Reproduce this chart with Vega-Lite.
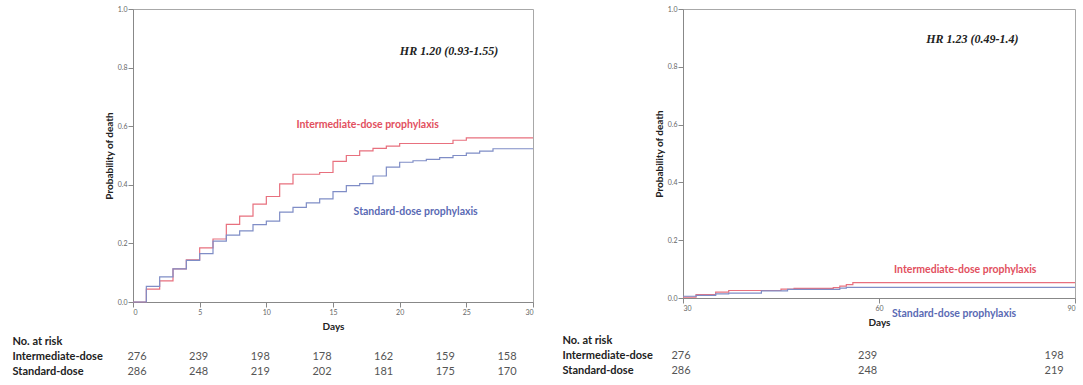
{
  "$schema": "https://vega.github.io/schema/vega-lite/v6.json",
  "padding": {"left": 12, "top": 4, "right": 0, "bottom": 0},
  "background": "white",
  "config": {
    "font": "Lato",
    "view": {"stroke": "#a8a8a8", "strokeWidth": 1},
    "axis": {
      "grid": false,
      "domainColor": "#888888",
      "tickColor": "#888888",
      "tickSize": 5,
      "labelColor": "#666666",
      "labelFontSize": 7,
      "labelPadding": 1,
      "labelFont": "Lato",
      "titleFont": "Lato",
      "titleFontSize": 10,
      "titleFontWeight": "bold",
      "titleColor": "#222222"
    }
  },
  "datasets": {
    "leftCurves": [
      {"day": 0, "prob": 0, "group": "Intermediate-dose"},
      {"day": 1, "prob": 0.044, "group": "Intermediate-dose"},
      {"day": 2, "prob": 0.072, "group": "Intermediate-dose"},
      {"day": 3, "prob": 0.113, "group": "Intermediate-dose"},
      {"day": 4, "prob": 0.144, "group": "Intermediate-dose"},
      {"day": 5, "prob": 0.185, "group": "Intermediate-dose"},
      {"day": 6, "prob": 0.215, "group": "Intermediate-dose"},
      {"day": 7, "prob": 0.265, "group": "Intermediate-dose"},
      {"day": 8, "prob": 0.293, "group": "Intermediate-dose"},
      {"day": 9, "prob": 0.334, "group": "Intermediate-dose"},
      {"day": 10, "prob": 0.36, "group": "Intermediate-dose"},
      {"day": 11, "prob": 0.403, "group": "Intermediate-dose"},
      {"day": 12, "prob": 0.436, "group": "Intermediate-dose"},
      {"day": 14, "prob": 0.442, "group": "Intermediate-dose"},
      {"day": 15, "prob": 0.48, "group": "Intermediate-dose"},
      {"day": 16, "prob": 0.5, "group": "Intermediate-dose"},
      {"day": 17, "prob": 0.516, "group": "Intermediate-dose"},
      {"day": 18, "prob": 0.524, "group": "Intermediate-dose"},
      {"day": 19, "prob": 0.532, "group": "Intermediate-dose"},
      {"day": 20, "prob": 0.541, "group": "Intermediate-dose"},
      {"day": 24, "prob": 0.552, "group": "Intermediate-dose"},
      {"day": 25, "prob": 0.56, "group": "Intermediate-dose"},
      {"day": 30, "prob": 0.56, "group": "Intermediate-dose"},
      {"day": 0, "prob": 0, "group": "Standard-dose"},
      {"day": 1, "prob": 0.053, "group": "Standard-dose"},
      {"day": 2, "prob": 0.086, "group": "Standard-dose"},
      {"day": 3, "prob": 0.113, "group": "Standard-dose"},
      {"day": 4, "prob": 0.142, "group": "Standard-dose"},
      {"day": 5, "prob": 0.165, "group": "Standard-dose"},
      {"day": 6, "prob": 0.208, "group": "Standard-dose"},
      {"day": 7, "prob": 0.228, "group": "Standard-dose"},
      {"day": 8, "prob": 0.243, "group": "Standard-dose"},
      {"day": 9, "prob": 0.264, "group": "Standard-dose"},
      {"day": 10, "prob": 0.276, "group": "Standard-dose"},
      {"day": 11, "prob": 0.307, "group": "Standard-dose"},
      {"day": 12, "prob": 0.323, "group": "Standard-dose"},
      {"day": 13, "prob": 0.338, "group": "Standard-dose"},
      {"day": 14, "prob": 0.352, "group": "Standard-dose"},
      {"day": 15, "prob": 0.377, "group": "Standard-dose"},
      {"day": 16, "prob": 0.397, "group": "Standard-dose"},
      {"day": 17, "prob": 0.404, "group": "Standard-dose"},
      {"day": 18, "prob": 0.43, "group": "Standard-dose"},
      {"day": 19, "prob": 0.46, "group": "Standard-dose"},
      {"day": 20, "prob": 0.477, "group": "Standard-dose"},
      {"day": 21, "prob": 0.482, "group": "Standard-dose"},
      {"day": 22, "prob": 0.487, "group": "Standard-dose"},
      {"day": 23, "prob": 0.493, "group": "Standard-dose"},
      {"day": 24, "prob": 0.5, "group": "Standard-dose"},
      {"day": 25, "prob": 0.508, "group": "Standard-dose"},
      {"day": 26, "prob": 0.515, "group": "Standard-dose"},
      {"day": 27, "prob": 0.523, "group": "Standard-dose"},
      {"day": 30, "prob": 0.523, "group": "Standard-dose"}
    ],
    "rightCurves": [
      {"day": 30, "prob": 0.003, "group": "Intermediate-dose"},
      {"day": 32, "prob": 0.012, "group": "Intermediate-dose"},
      {"day": 35, "prob": 0.02, "group": "Intermediate-dose"},
      {"day": 37, "prob": 0.026, "group": "Intermediate-dose"},
      {"day": 45, "prob": 0.031, "group": "Intermediate-dose"},
      {"day": 47, "prob": 0.033, "group": "Intermediate-dose"},
      {"day": 53, "prob": 0.036, "group": "Intermediate-dose"},
      {"day": 54, "prob": 0.041, "group": "Intermediate-dose"},
      {"day": 55, "prob": 0.046, "group": "Intermediate-dose"},
      {"day": 56, "prob": 0.053, "group": "Intermediate-dose"},
      {"day": 90, "prob": 0.053, "group": "Intermediate-dose"},
      {"day": 30, "prob": 0.006, "group": "Standard-dose"},
      {"day": 32, "prob": 0.009, "group": "Standard-dose"},
      {"day": 35, "prob": 0.014, "group": "Standard-dose"},
      {"day": 37, "prob": 0.017, "group": "Standard-dose"},
      {"day": 42, "prob": 0.025, "group": "Standard-dose"},
      {"day": 46, "prob": 0.03, "group": "Standard-dose"},
      {"day": 54, "prob": 0.034, "group": "Standard-dose"},
      {"day": 55, "prob": 0.037, "group": "Standard-dose"},
      {"day": 90, "prob": 0.037, "group": "Standard-dose"}
    ],
    "leftLabels": [
      {"day": 17.6, "prob": 0.605, "group": "Intermediate-dose", "label": "Intermediate-dose prophylaxis"},
      {"day": 21.2, "prob": 0.308, "group": "Standard-dose", "label": "Standard-dose prophylaxis"}
    ],
    "rightLabels": [
      {"day": 73.2, "prob": 0.096, "group": "Intermediate-dose", "label": "Intermediate-dose prophylaxis"},
      {"day": 71.5, "prob": -0.055, "group": "Standard-dose", "label": "Standard-dose prophylaxis"}
    ],
    "leftHR": [{"day": 23.7, "prob": 0.858, "label": "HR 1.20 (0.93-1.55)"}],
    "rightHR": [{"day": 74.3, "prob": 0.897, "label": "HR 1.23 (0.49-1.4)"}],
    "leftTable": [
      {"day": 0, "row": "Intermediate-dose", "n": 276},
      {"day": 5, "row": "Intermediate-dose", "n": 239},
      {"day": 10, "row": "Intermediate-dose", "n": 198},
      {"day": 15, "row": "Intermediate-dose", "n": 178},
      {"day": 20, "row": "Intermediate-dose", "n": 162},
      {"day": 25, "row": "Intermediate-dose", "n": 159},
      {"day": 30, "row": "Intermediate-dose", "n": 158},
      {"day": 0, "row": "Standard-dose", "n": 286},
      {"day": 5, "row": "Standard-dose", "n": 248},
      {"day": 10, "row": "Standard-dose", "n": 219},
      {"day": 15, "row": "Standard-dose", "n": 202},
      {"day": 20, "row": "Standard-dose", "n": 181},
      {"day": 25, "row": "Standard-dose", "n": 175},
      {"day": 30, "row": "Standard-dose", "n": 170}
    ],
    "rightTable": [
      {"day": 30, "row": "Intermediate-dose", "n": 276},
      {"day": 60, "row": "Intermediate-dose", "n": 239},
      {"day": 90, "row": "Intermediate-dose", "n": 198},
      {"day": 30, "row": "Standard-dose", "n": 286},
      {"day": 60, "row": "Standard-dose", "n": 248},
      {"day": 90, "row": "Standard-dose", "n": 219}
    ]
  },
  "spacing": 26,
  "hconcat": [
    {
      "spacing": 2,
      "vconcat": [
        {
          "width": 400,
          "height": 293,
          "resolve": {"scale": {"color": "independent"}},
          "layer": [
            {
              "data": {"name": "leftCurves"},
              "mark": {"type": "line", "interpolate": "step-after", "strokeWidth": 1.2},
              "encoding": {
                "x": {"field": "day", "type": "quantitative", "scale": {"domain": [0, 30], "nice": false, "zero": false},
                      "axis": {"values": [0, 5, 10, 15, 20, 25, 30], "title": "Days", "titlePadding": 6}},
                "y": {"field": "prob", "type": "quantitative", "scale": {"domain": [0, 1], "nice": false},
                      "axis": {"values": [0, 0.2, 0.4, 0.6, 0.8, 1], "format": ".1f", "title": "Probability of death", "titlePadding": 3}},
                "color": {"field": "group", "type": "nominal", "legend": null,
                          "scale": {"domain": ["Intermediate-dose", "Standard-dose"], "range": ["#e8707e", "#7f8dc6"]}}
              }
            },
            {
              "data": {"name": "leftLabels"},
              "mark": {"type": "text", "fontWeight": "bold", "fontSize": 10.5, "font": "Lato"},
              "encoding": {
                "x": {"field": "day", "type": "quantitative"},
                "y": {"field": "prob", "type": "quantitative"},
                "text": {"field": "label"},
                "color": {"field": "group", "type": "nominal", "legend": null,
                          "scale": {"domain": ["Intermediate-dose", "Standard-dose"], "range": ["#e2505e", "#5a6ab4"]}}
              }
            },
            {
              "data": {"name": "leftHR"},
              "mark": {"type": "text", "font": "Liberation Serif", "fontStyle": "italic", "fontWeight": "bold", "fontSize": 12, "color": "#222222"},
              "encoding": {
                "x": {"field": "day", "type": "quantitative"},
                "y": {"field": "prob", "type": "quantitative"},
                "text": {"field": "label"}
              }
            }
          ]
        },
        {
          "width": 400,
          "height": 45,
          "view": {"stroke": null},
          "data": {"name": "leftTable"},
          "mark": {"type": "text", "fontSize": 11, "color": "#555555", "font": "Lato"},
          "encoding": {
            "x": {"field": "day", "type": "quantitative", "scale": {"domain": [-0.32, 32.11], "nice": false, "zero": false}, "axis": null},
            "y": {"field": "row", "type": "nominal",
                  "scale": {"type": "point", "domain": ["No. at risk", "Intermediate-dose", "Standard-dose"], "padding": 0.5},
                  "axis": {"title": null, "domain": false, "ticks": false, "tickSize": 0, "labelAlign": "left", "labelPadding": 121,
                           "labelFontSize": 11, "labelFontWeight": "bold", "labelColor": "#222222", "labelFont": "Lato"}},
            "text": {"field": "n", "type": "quantitative"}
          }
        }
      ]
    },
    {
      "spacing": 5,
      "vconcat": [
        {
          "width": 392,
          "height": 289,
          "resolve": {"scale": {"color": "independent"}},
          "layer": [
            {
              "data": {"name": "rightCurves"},
              "mark": {"type": "line", "interpolate": "step-after", "strokeWidth": 1.2},
              "encoding": {
                "x": {"field": "day", "type": "quantitative", "scale": {"domain": [30, 90], "nice": false, "zero": false},
                      "axis": {"values": [30, 60, 90], "title": "Days", "titlePadding": 6}},
                "y": {"field": "prob", "type": "quantitative", "scale": {"domain": [0, 1], "nice": false},
                      "axis": {"values": [0, 0.2, 0.4, 0.6, 0.8, 1], "format": ".1f", "title": "Probability of death", "titlePadding": 3}},
                "color": {"field": "group", "type": "nominal", "legend": null,
                          "scale": {"domain": ["Intermediate-dose", "Standard-dose"], "range": ["#e8707e", "#7f8dc6"]}}
              }
            },
            {
              "data": {"name": "rightLabels"},
              "mark": {"type": "text", "fontWeight": "bold", "fontSize": 10.5, "font": "Lato"},
              "encoding": {
                "x": {"field": "day", "type": "quantitative"},
                "y": {"field": "prob", "type": "quantitative"},
                "text": {"field": "label"},
                "color": {"field": "group", "type": "nominal", "legend": null,
                          "scale": {"domain": ["Intermediate-dose", "Standard-dose"], "range": ["#e2505e", "#5a6ab4"]}}
              }
            },
            {
              "data": {"name": "rightHR"},
              "mark": {"type": "text", "font": "Liberation Serif", "fontStyle": "italic", "fontWeight": "bold", "fontSize": 12, "color": "#222222"},
              "encoding": {
                "x": {"field": "day", "type": "quantitative"},
                "y": {"field": "prob", "type": "quantitative"},
                "text": {"field": "label"}
              }
            }
          ]
        },
        {
          "width": 392,
          "height": 45,
          "view": {"stroke": null},
          "data": {"name": "rightTable"},
          "mark": {"type": "text", "fontSize": 11, "color": "#555555", "font": "Lato"},
          "encoding": {
            "x": {"field": "day", "type": "quantitative", "scale": {"domain": [30.32, 93.35], "nice": false, "zero": false}, "axis": null},
            "y": {"field": "row", "type": "nominal",
                  "scale": {"type": "point", "domain": ["No. at risk", "Intermediate-dose", "Standard-dose"], "padding": 0.5},
                  "axis": {"title": null, "domain": false, "ticks": false, "tickSize": 0, "labelAlign": "left", "labelPadding": 121,
                           "labelFontSize": 11, "labelFontWeight": "bold", "labelColor": "#222222", "labelFont": "Lato"}},
            "text": {"field": "n", "type": "quantitative"}
          }
        }
      ]
    }
  ]
}
